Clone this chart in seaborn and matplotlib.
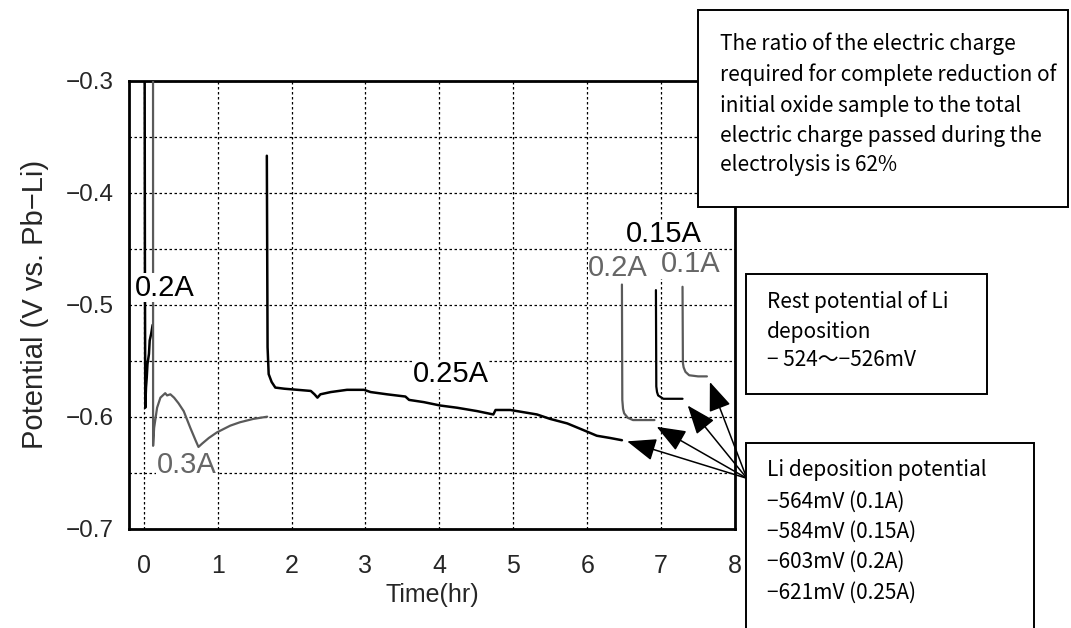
import matplotlib
matplotlib.use("Agg")
import matplotlib.pyplot as plt
from matplotlib.patches import Rectangle
from matplotlib.ticker import MultipleLocator
import numpy as np
import pandas as pd
import seaborn as sns

# ---- potential transients (time in hr, potential in V vs. Pb-Li) ----
t_020a_a = [0.010, 0.015, 0.020, 0.030, 0.040, 0.050, 0.070, 0.080, 0.100, 0.120]
v_020a_a = [-0.20, -0.45, -0.592, -0.574, -0.565, -0.553, -0.544, -0.532, -0.526, -0.518]

t_030a = [0.125, 0.126, 0.14, 0.18, 0.225, 0.29, 0.315, 0.36, 0.41, 0.47, 0.54,
          0.63, 0.70, 0.74, 0.79, 0.88, 0.99, 1.17, 1.30, 1.48, 1.67]
v_030a = [-0.20, -0.626, -0.610, -0.592, -0.583, -0.579, -0.581, -0.580, -0.583, -0.588, -0.595,
          -0.610, -0.621, -0.627, -0.624, -0.619, -0.614, -0.608, -0.605, -0.602, -0.600]

t_025a = [1.665, 1.675, 1.69, 1.73, 1.78, 1.90, 2.08, 2.26, 2.31, 2.35, 2.39, 2.53, 2.75,
          2.98, 3.07, 3.29, 3.54, 3.59, 3.79, 4.01, 4.24, 4.51, 4.73, 4.76, 4.96, 5.14,
          5.32, 5.50, 5.73, 5.95, 6.13, 6.31, 6.47]
v_025a = [-0.367, -0.538, -0.562, -0.569, -0.574, -0.575, -0.576, -0.577, -0.580, -0.583,
          -0.580, -0.578, -0.576, -0.576, -0.578, -0.580, -0.582, -0.585, -0.587, -0.590,
          -0.592, -0.595, -0.598, -0.594, -0.594, -0.596, -0.598, -0.602, -0.606, -0.612,
          -0.617, -0.619, -0.621]

t_020a_b = [6.470, 6.475, 6.485, 6.50, 6.55, 6.62, 6.75, 6.91]
v_020a_b = [-0.482, -0.585, -0.593, -0.597, -0.601, -0.603, -0.603, -0.603]

t_015a = [6.930, 6.935, 6.945, 6.96, 7.03, 7.12, 7.29]
v_015a = [-0.487, -0.573, -0.578, -0.581, -0.584, -0.584, -0.584]

t_010a = [7.290, 7.295, 7.305, 7.33, 7.38, 7.50, 7.62]
v_010a = [-0.484, -0.552, -0.556, -0.560, -0.563, -0.564, -0.564]

# current labels: text, time, potential, colour
label_text = ["0.2A", "0.3A", "0.25A", "0.15A", "0.2A", "0.1A"]
label_t = [0.29, 0.58, 4.15, 7.04, 6.42, 7.40]
label_v = [-0.485, -0.643, -0.562, -0.437, -0.467, -0.464]
label_col = ["black", "#666666", "black", "black", "#666666", "#666666"]

# arrows from the deposition-potential note to each plateau
arrow_tip_t = [6.54, 6.94, 7.36, 7.66]
arrow_tip_v = [-0.622, -0.609, -0.590, -0.569]
arrow_src_t = 8.16
arrow_src_v = -0.655

y_ticks = [-0.7, -0.6, -0.5, -0.4, -0.3]
x_ticks = [0, 1, 2, 3, 4, 5, 6, 7, 8]

note_ratio = ["The ratio of the electric charge",
              "required for complete reduction of",
              "initial oxide sample to the total",
              "electric charge passed during the",
              "electrolysis is 62%"]
note_rest = ["Rest potential of Li", "deposition", "\u2212 524\u301c\u2212526mV"]
note_dep = ["Li deposition potential",
            "\u2212564mV (0.1A)",
            "\u2212584mV (0.15A)",
            "\u2212603mV (0.2A)",
            "\u2212621mV (0.25A)"]

sns.set_theme(style="white")
plt.rcParams["font.family"] = ["Liberation Sans", "DejaVu Sans"]
plt.rcParams["axes.unicode_minus"] = True

W, H = 1071, 628
fig = plt.figure(figsize=(W / 100, H / 100), dpi=100)
ax = fig.add_axes([129 / W, 1 - 528.7 / H, (735 - 129) / W, (528.7 - 80.7) / H])

GRAY = "#5a5a5a"
segments = [
    (t_020a_a, v_020a_a, "black", 1.8),
    (t_030a, v_030a, GRAY, 1.6),
    (t_025a, v_025a, "black", 1.8),
    (t_020a_b, v_020a_b, GRAY, 1.6),
    (t_015a, v_015a, "black", 1.6),
    (t_010a, v_010a, GRAY, 1.6),
]
for tt, vv, col, lw in segments:
    df = pd.DataFrame({"t": tt, "v": vv})
    sns.lineplot(data=df, x="t", y="v", color=col, linewidth=lw, sort=False,
                 estimator=None, ax=ax, zorder=3)

ax.set_xlim(-0.2, 8)
ax.set_ylim(-0.7, -0.3)
ax.set_xticks(x_ticks)
ax.set_yticks(y_ticks, labels=[f"{v:.1f}".replace("-", "\u2212") for v in y_ticks])
ax.yaxis.set_minor_locator(MultipleLocator(0.05))
ax.grid(True, which="both", axis="y", color="black", linestyle=(0, (2, 2)), linewidth=0.9)
ax.grid(True, which="major", axis="x", color="black", linestyle=(0, (2, 2)), linewidth=0.9)
ax.tick_params(axis="both", which="both", length=0)
ax.tick_params(axis="y", labelsize=17.5, pad=11)
ax.tick_params(axis="x", labelsize=18, pad=18)
for sp in ax.spines.values():
    sp.set_color("black")
    sp.set_linewidth(2.0)
ax.set_xlabel("Time(hr)", fontsize=18, labelpad=4)
ax.set_ylabel("Potential (V vs. Pb\u2212Li)", fontsize=21, labelpad=12)

for txt, tx, vy, col in zip(label_text, label_t, label_v, label_col):
    ax.text(tx, vy, txt, color=col, fontsize=21, ha="center", va="center", zorder=4,
            bbox=dict(facecolor="white", edgecolor="none", pad=0.5))

for tt, vv in zip(arrow_tip_t, arrow_tip_v):
    ax.annotate("", xy=(tt, vv), xytext=(arrow_src_t, arrow_src_v),
                annotation_clip=False, zorder=6,
                arrowprops=dict(arrowstyle="-|>,head_length=0.9,head_width=0.35",
                                color="black", lw=1.1, shrinkA=0, shrinkB=0,
                                mutation_scale=20))

# note boxes in figure pixels
box_font = ["Noto Sans CJK JP", "DejaVu Sans"]


def note_box(x0, y0, x1, y1):
    fig.add_artist(Rectangle((x0 / W, 1 - y1 / H), (x1 - x0) / W, (y1 - y0) / H,
                             transform=fig.transFigure, facecolor="white",
                             edgecolor="black", linewidth=1.4, zorder=10))


def note_lines(x, ys, lines, size=15):
    for yy, line in zip(ys, lines):
        fig.text(x / W, 1 - yy / H, line, fontsize=size, family=box_font,
                 ha="left", va="center", color="black", zorder=11)


note_box(698, 10, 1068, 207)
note_lines(720, [44, 75, 106, 136, 165], note_ratio)
note_box(746, 274, 987, 394)
note_lines(767, [302, 332, 360], note_rest)
note_box(746, 443, 1034, 700)
note_lines(767, [470, 502, 532, 562, 593], note_dep)

fig.savefig("out.png", dpi=100)
